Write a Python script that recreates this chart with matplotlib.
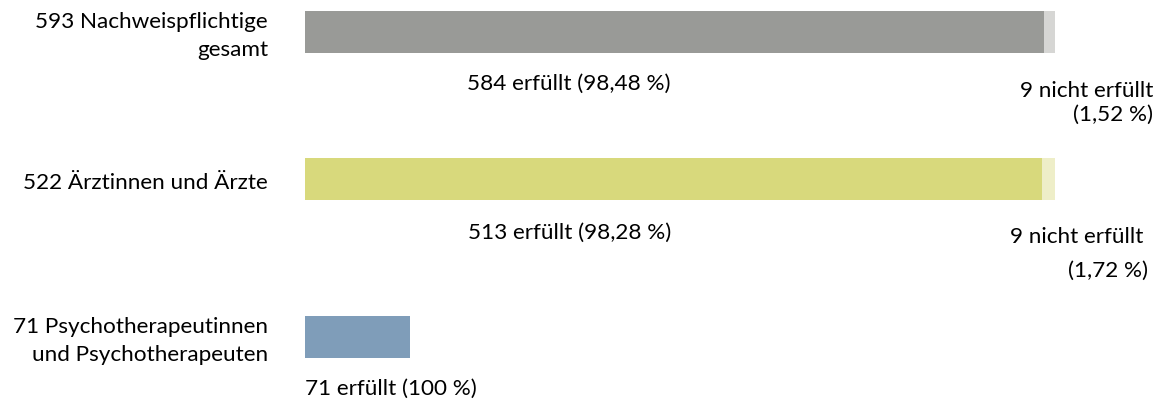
import matplotlib
matplotlib.use("Agg")
import matplotlib.pyplot as plt

# Daten
gruppen = ["593 Nachweispflichtige\ngesamt", "522 Ärztinnen und Ärzte",
           "71 Psychotherapeutinnen\nund Psychotherapeuten"]
erfuellt = [584, 513, 71]
nicht_erfuellt = [9, 9, 0]
anteil_erfuellt = ["98,48", "98,28", "100"]
anteil_nicht = ["1,52", "1,72", ""]
# Balkenlänge wie im Original (erste zwei auf 100 normiert, dritte kürzer)
bezug = [593, 522, 507]

farben = ["#999a97", "#d8d97c", "#7f9db9"]
farben_hell = ["#d6d6d4", "#eeeec8", "#ffffff"]

plt.rcParams["font.family"] = ["Lato", "DejaVu Sans"]

W, H = 1159, 404
fig = plt.figure(figsize=(W / 100, H / 100), dpi=100)
ax = fig.add_axes([305 / W, 0, 750 / W, 1])
ax.set_xlim(0, 100)
ax.set_ylim(H, 0)
ax.axis("off")

px = 100 / 750  # Dateneinheiten pro Pixel
y_pos = [32, 179, 337]
fs = 16.2

for i in range(3):
    b1 = erfuellt[i] / bezug[i] * 100
    b2 = nicht_erfuellt[i] / bezug[i] * 100
    ax.barh(y_pos[i], b1, height=42, color=farben[i])
    if b2 > 0:
        ax.barh(y_pos[i], b2, left=b1, height=42, color=farben_hell[i])

    ax.text(-37 * px, y_pos[i] + 4, gruppen[i], ha="right", va="center",
            fontsize=fs, linespacing=1.45, clip_on=False)

# Beschriftungen unter den Balken
ax.text(264 * px, 84, f"{erfuellt[0]} erfüllt ({anteil_erfuellt[0]} %)",
        ha="center", va="center", fontsize=fs)
ax.text(848 * px, 103, f"{nicht_erfuellt[0]} nicht erfüllt\n({anteil_nicht[0]} %)",
        ha="right", va="center", fontsize=fs, linespacing=1.25, multialignment="right",
        clip_on=False)
ax.text(265 * px, 233, f"{erfuellt[1]} erfüllt ({anteil_erfuellt[1]} %)",
        ha="center", va="center", fontsize=fs)
ax.text(838 * px, 237, f"{nicht_erfuellt[1]} nicht erfüllt",
        ha="right", va="center", fontsize=fs, clip_on=False)
ax.text(843 * px, 271, f"({anteil_nicht[1]} %)",
        ha="right", va="center", fontsize=fs, clip_on=False)
ax.text(0, 389, f"{erfuellt[2]} erfüllt ({anteil_erfuellt[2]} %)",
        ha="left", va="center", fontsize=fs)

fig.savefig("out.png", dpi=100)
